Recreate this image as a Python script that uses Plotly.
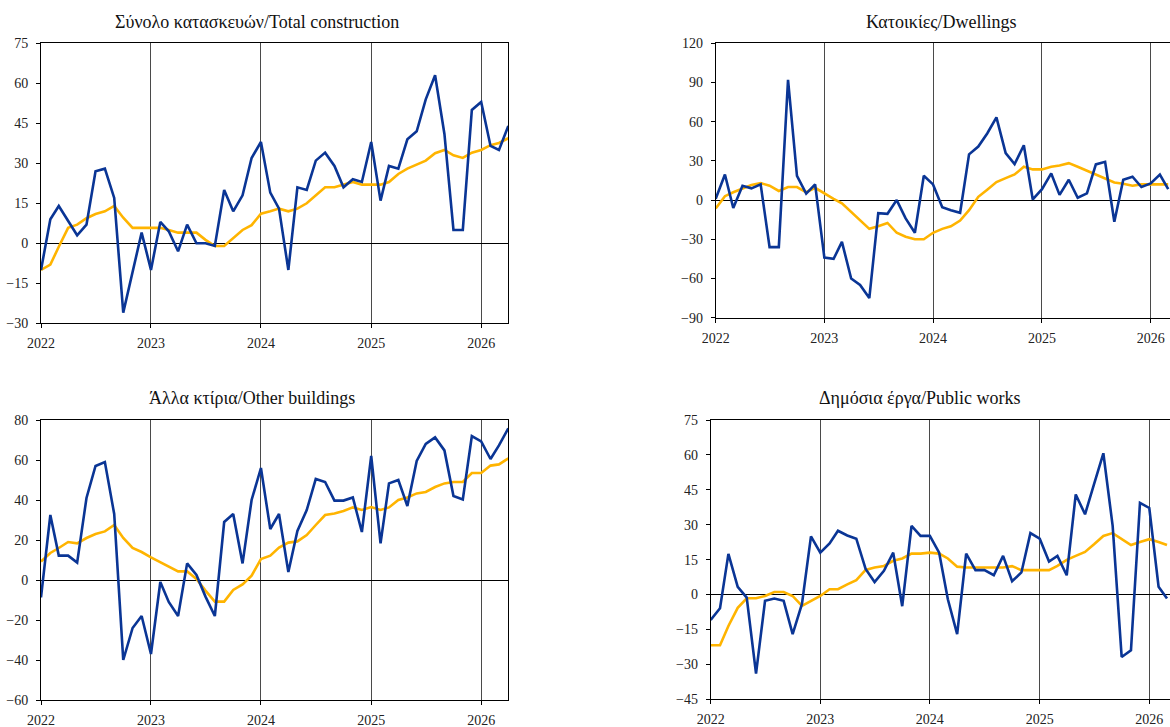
import pandas as pd
import plotly.graph_objects as go

# ---------------- data ----------------
dates = pd.date_range("2022-01-01", periods=52, freq="MS")

tc_actual = [-10, 9, 14, 8.5, 3, 7, 27, 28, 17, -26, -11, 4,
             -10, 8, 4.5, -3, 7, 0, 0, -1, 20, 12, 18, 32,
             38, 19, 13, -10, 21, 20, 31, 34, 29, 21, 24, 23,
             38, 16, 29, 28, 39, 42, 54, 63, 41, 5, 5, 50,
             53, 36.5, 35, 44]
tc_trend = [-10, -8, -1.3, 5.8, 7, 9.4, 11, 12, 14, 9.6, 5.8, 5.8,
            5.8, 5.8, 5, 4, 4, 4, 1.3, -1, -1, 2, 5, 6.8,
            11.1, 12, 13, 12, 13, 15, 18, 21, 21, 22, 23, 22,
            22, 22, 23, 26, 28, 29.5, 31, 33.8, 35, 33, 32, 34,
            35, 36.8, 37.6, 39.4]

dw_actual = [1, 19.6, -6, 11, 9, 12, -36, -36, 92, 18.6, 5, 12,
             -44, -45, -32, -60, -65, -75, -10, -10.5, 0, -14, -25, 18.6,
             12, -5.4, -7.7, -9.7, 35, 41, 51, 63.3, 36, 27.6, 42, 0.5,
             8.4, 20.4, 4, 15.6, 1.8, 5.1, 27.3, 29.3, -16.6, 15.6, 17.9, 10,
             12.8, 19.6, 8.4]
dw_trend = [-6.4, 3, 6, 9, 11.5, 13, 11, 7, 10, 10, 6, 9.4,
            5, 1, -2.5, -9, -15, -22, -20, -17.5, -25, -28, -30, -30,
            -25, -22, -20, -15.6, -7.7, 2.5, 8, 13.8, 16.8, 19.6, 25.5, 23.5,
            23.5, 25.5, 26.5, 28.3, 25.5, 22.4, 19.6, 16.6, 13.5, 12.5, 11, 12,
            12, 12, 12]

ob_actual = [-8.7, 32.5, 12.2, 12.2, 8.7, 41, 57, 59, 33, -40, -24, -18,
             -37, -1, -11, -18, 8.3, 2.5, -8.3, -18, 29, 33, 8.3, 40,
             56, 25.5, 33, 4, 24.5, 35, 50.5, 49, 39.7, 39.7, 41.3, 24,
             62, 18.3, 48.3, 50, 37, 59.5, 68, 71.3, 64.8, 42, 40.3, 72,
             69.3, 60.5, 67.3, 75.8]
ob_trend = [9.2, 13.5, 16, 19, 18.3, 21, 23, 24.3, 27.5, 21, 16, 14,
            11.3, 8.8, 6.7, 4.3, 4.3, 0.5, -5.3, -10.8, -10.8, -5, -2.2, 2.2,
            10.5, 12.2, 16.2, 18.7, 19.3, 22.5, 27.5, 32.5, 33.2, 34.5, 36.3, 35,
            36.5, 35, 36.3, 40, 41.3, 43.3, 44, 46.5, 48.3, 49, 49, 53.5,
            53.5, 57.2, 57.8, 60.8]

pw_actual = [-10.9, -5.9, 17.5, 3.3, -1.3, -34, -2.7, -1.7, -2.7, -17, -4, 25,
             18, 22, 27.4, 25.4, 24, 11, 5.4, 10.2, 18, -5, 29.5, 25.2,
             25.2, 18, -2, -17, 17.6, 10.5, 10.5, 8.3, 16.6, 5.7, 9.5, 26.4,
             24, 14.2, 16.6, 8.3, 43, 34.5, 47.4, 60.7, 29.5, -26.8, -24, 39.4,
             37.2, 3.3, -1.7]
pw_trend = [-21.8, -21.8, -13.5, -5.7, -1.6, -1.6, -0.6, 1.1, 1.1, -0.6, -4.9, -2.7,
            -0.6, 2.3, 2.3, 4.4, 6.2, 10.6, 11.6, 12.3, 14.5, 15.5, 17.6, 17.6,
            18, 17.6, 15.5, 12, 11.6, 11.6, 11.6, 11.6, 11.6, 12.2, 10.5, 10.5,
            10.5, 10.5, 12.3, 14.9, 16.6, 18.3, 21.6, 25.2, 26.4, 23.8, 21.3, 22.6,
            23.8, 22.6, 21.3]

titles = ["Σύνολο κατασκευών/Total construction", "Κατοικίες/Dwellings",
          "Άλλα κτίρια/Other buildings", "Δημόσια έργα/Public works"]
year_ticks = ["2022-01-01", "2023-01-01", "2024-01-01", "2025-01-01", "2026-01-01"]
year_labels = ["2022", "2023", "2024", "2025", "2026"]

# ---------------- styling / layout ----------------
W, H = 1170, 727
BLUE = "#0a3595"
ORANGE = "#FFB400"
FONT = "Liberation Serif"

def px_x(p):
    return min(max(p / W, 0.0), 1.0)

def px_y(p):
    return min(max(1 - p / H, 0.0), 1.0)

panels = [
    # (actual, trend, x0px, x1px, ytop_px, ybot_px, yrange, dtick, xend, right_border, title_x, title_y)
    (tc_actual, tc_trend, 41, 508.3, 43.3, 323.3, [-30, 75], 15, "2026-04-01", True, 257, 22),
    (dw_actual, dw_trend, 715.7, 1170, 43.3, 317.7, [-90, 120], 30, "2026-03-07", False, 941, 22),
    (ob_actual, ob_trend, 41, 508.3, 420, 700, [-60, 80], 20, "2026-04-01", True, 252, 398),
    (pw_actual, pw_trend, 710.7, 1170, 420, 699.3, [-45, 75], 15, "2026-03-11", False, 920, 398),
]

fig = go.Figure()
annotations = []
for i, (act, trd, x0, x1, yt, yb, yr, dt, xend, rb, tx, ty) in enumerate(panels):
    n = i + 1
    xa = "x" if n == 1 else f"x{n}"
    ya = "y" if n == 1 else f"y{n}"
    d = dates[:len(act)]
    fig.add_trace(go.Scatter(x=d, y=trd, mode="lines", xaxis=xa, yaxis=ya,
                             line=dict(color=ORANGE, width=2.6), showlegend=False,
                             cliponaxis=True))
    fig.add_trace(go.Scatter(x=d, y=act, mode="lines", xaxis=xa, yaxis=ya,
                             line=dict(color=BLUE, width=2.6), showlegend=False,
                             cliponaxis=True))
    xkey = "xaxis" if n == 1 else f"xaxis{n}"
    ykey = "yaxis" if n == 1 else f"yaxis{n}"
    fig.update_layout(**{
        xkey: dict(domain=[px_x(x0), px_x(x1)], anchor=ya,
                   type="date", range=["2022-01-01", xend],
                   tickvals=year_ticks, ticktext=year_labels,
                   showgrid=True, gridcolor="#4a4a4a", gridwidth=1,
                   showline=True, linecolor="black", linewidth=1, mirror=True,
                   ticks="outside", ticklen=4, tickcolor="black",
                   ticklabelstandoff=3,
                   tickfont=dict(family=FONT, size=14, color="#222"),
                   zeroline=False, fixedrange=True, automargin=False),
        ykey: dict(domain=[px_y(yb), px_y(yt)], anchor=xa,
                   range=yr, dtick=dt, tick0=0,
                   showgrid=False,
                   zeroline=True, zerolinecolor="black", zerolinewidth=1,
                   showline=True, linecolor="black", linewidth=1, mirror=rb,
                   ticks="outside", ticklen=4, tickcolor="black",
                   ticklabelstandoff=5,
                   tickfont=dict(family=FONT, size=14, color="#222"),
                   fixedrange=True, automargin=False),
    })
    annotations.append(dict(text=titles[i], x=px_x(tx), y=px_y(ty), xref="paper", yref="paper",
                            xanchor="center", yanchor="middle", showarrow=False,
                            font=dict(family=FONT, size=18, color="#111")))

fig.update_layout(width=W, height=H, margin=dict(l=0, r=0, t=0, b=0, autoexpand=False),
                  paper_bgcolor="white", plot_bgcolor="white",
                  annotations=annotations)

# remove the default page margin so the figure fills the 1170x727 window exactly
fig.write_html("out.html",
               config={"displayModeBar": False, "staticPlot": True},
               post_script="document.body.style.margin='0';"
                           "document.body.style.overflow='hidden';"
                           "document.documentElement.style.overflow='hidden';")
